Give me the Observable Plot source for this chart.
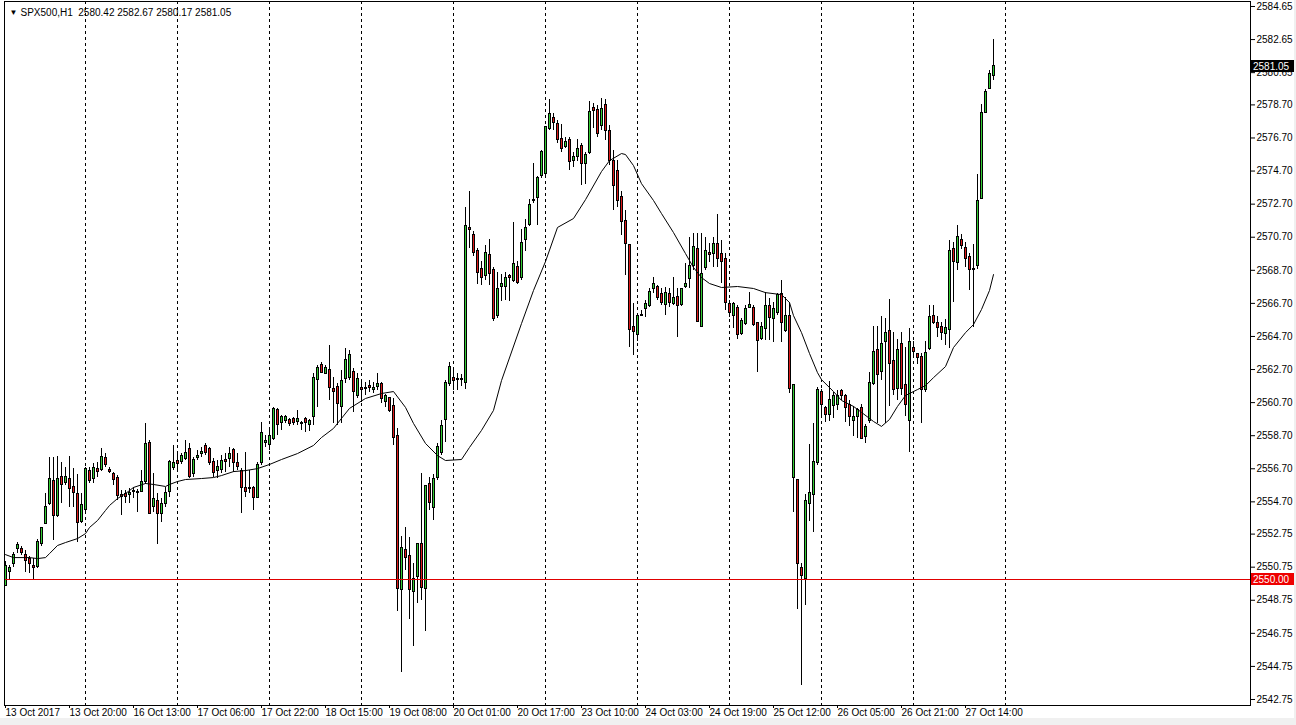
<!DOCTYPE html>
<html><head><meta charset="utf-8">
<script src="https://cdn.jsdelivr.net/npm/d3@7"></script>
<script src="https://cdn.jsdelivr.net/npm/@observablehq/plot@0.6"></script>
<style>
html,body{margin:0;padding:0;background:#f0f0f0;}
#wrap{width:1296px;height:725px;background:#f0f0f0;}
svg{display:block;}
</style></head><body><div id="wrap"></div>
<script>
const symbol = "SPX500,H1";
const open = [2549.64,2550.48,2550.97,2551.82,2551.82,2551.51,2551.27,2550.85,2550.79,2552.18,2553.39,2554.60,2555.99,2553.87,2556.23,2555.81,2556.11,2555.57,2555.20,2553.51,2554.18,2556.59,2556.11,2556.71,2556.65,2557.38,2556.65,2556.41,2556.17,2555.14,2555.20,2555.14,2555.32,2555.26,2555.32,2555.87,2558.23,2554.36,2554.78,2553.99,2554.54,2555.32,2556.77,2557.14,2557.08,2557.32,2557.87,2556.41,2557.38,2557.62,2558.05,2557.87,2557.08,2556.59,2556.65,2557.26,2557.32,2557.81,2557.02,2556.59,2555.51,2555.51,2555.51,2554.96,2557.02,2558.23,2558.11,2558.47,2560.23,2559.44,2559.56,2559.62,2559.68,2559.50,2559.44,2559.68,2559.32,2559.80,2562.09,2563.00,2562.45,2562.70,2561.55,2561.67,2560.41,2562.15,2562.21,2562.57,2561.13,2561.61,2561.61,2561.73,2561.49,2561.67,2561.85,2560.71,2560.95,2560.47,2558.71,2549.40,2551.76,2551.45,2549.22,2550.18,2552.18,2549.46,2555.75,2554.30,2556.17,2557.68,2559.62,2561.85,2562.21,2562.15,2562.09,2561.91,2571.23,2570.86,2569.89,2568.75,2568.38,2569.65,2568.69,2565.91,2567.72,2567.72,2568.38,2568.08,2568.87,2568.26,2570.56,2571.41,2572.92,2573.10,2574.42,2574.54,2577.27,2577.93,2577.57,2576.66,2576.18,2576.60,2575.33,2575.57,2576.24,2575.15,2575.82,2578.54,2578.42,2577.45,2578.72,2577.15,2575.33,2574.73,2573.16,2571.71,2570.20,2565.30,2564.81,2565.96,2566.39,2566.57,2567.54,2567.72,2567.29,2566.63,2567.29,2566.69,2567.11,2566.63,2567.66,2568.20,2568.99,2569.96,2565.30,2568.81,2569.77,2569.71,2570.32,2569.71,2569.41,2566.69,2565.96,2566.45,2564.87,2565.48,2566.45,2566.45,2565.54,2564.57,2565.18,2566.57,2565.78,2566.14,2567.29,2565.06,2565.96,2556.17,2556.05,2550.73,2550.06,2554.54,2555.14,2557.02,2561.37,2560.35,2559.98,2560.47,2560.53,2561.43,2561.07,2560.53,2559.56,2559.80,2560.35,2558.65,2559.56,2561.85,2563.91,2562.57,2564.39,2565.06,2563.24,2561.55,2564.27,2561.79,2559.56,2564.03,2563.61,2563.48,2561.49,2563.97,2565.96,2565.54,2565.30,2564.87,2565.12,2569.96,2569.17,2570.56,2570.02,2569.53,2568.75,2568.93,2573.04,2578.24,2579.69,2580.42];
const high = [2551.09,2550.85,2551.63,2552.24,2552.00,2551.76,2551.39,2551.27,2552.42,2553.15,2555.20,2557.38,2557.38,2557.44,2557.08,2556.77,2557.44,2556.71,2556.35,2555.20,2556.77,2556.77,2557.02,2557.08,2557.93,2557.62,2556.77,2556.47,2556.29,2555.38,2555.38,2555.51,2555.57,2555.45,2556.59,2559.44,2558.41,2556.41,2555.20,2554.90,2555.57,2557.20,2558.11,2557.68,2557.62,2558.41,2558.23,2557.38,2557.81,2557.99,2558.23,2557.99,2557.32,2557.20,2557.50,2557.62,2557.99,2557.93,2557.62,2556.71,2557.68,2556.59,2555.63,2557.08,2559.50,2558.71,2559.02,2560.41,2560.35,2559.92,2559.92,2559.74,2559.80,2560.23,2559.56,2559.80,2559.68,2562.45,2562.94,2563.12,2562.94,2564.15,2562.21,2561.85,2562.64,2563.97,2563.85,2562.76,2562.45,2561.91,2561.91,2562.03,2561.91,2562.45,2561.91,2561.19,2561.01,2560.95,2559.14,2552.60,2553.15,2552.54,2550.97,2552.18,2556.41,2555.63,2556.17,2556.35,2558.23,2559.62,2562.03,2563.12,2562.82,2562.45,2562.39,2572.50,2573.46,2571.05,2570.02,2569.23,2570.20,2570.56,2568.87,2568.56,2568.44,2568.56,2568.44,2571.59,2569.23,2571.17,2571.77,2572.97,2575.15,2574.36,2575.94,2577.39,2579.02,2578.17,2577.75,2577.51,2576.72,2576.72,2575.82,2576.60,2576.36,2575.82,2578.90,2578.78,2578.66,2579.08,2579.02,2577.45,2575.94,2575.33,2573.46,2572.32,2570.20,2566.69,2565.96,2566.27,2566.87,2567.60,2568.26,2567.78,2567.60,2567.66,2567.60,2568.26,2567.60,2567.60,2569.11,2570.68,2570.92,2570.92,2570.92,2570.68,2570.32,2570.68,2572.07,2570.50,2569.71,2566.87,2566.75,2566.57,2565.78,2566.57,2567.35,2566.57,2565.54,2565.54,2567.35,2566.99,2566.75,2567.29,2568.08,2567.05,2566.75,2561.79,2556.05,2550.97,2555.14,2558.17,2559.44,2561.61,2561.49,2560.47,2561.97,2561.31,2561.43,2561.49,2561.19,2560.83,2560.47,2560.35,2560.59,2559.38,2562.51,2565.30,2565.30,2565.90,2565.78,2566.93,2564.93,2564.51,2564.93,2564.03,2565.18,2564.39,2563.67,2563.67,2564.39,2566.57,2566.57,2565.90,2565.54,2565.72,2570.50,2570.38,2571.41,2570.86,2570.38,2569.71,2570.26,2574.48,2578.72,2579.63,2580.78,2582.67];
const low = [2549.58,2550.00,2550.73,2551.57,2551.45,2550.42,2550.36,2549.94,2550.67,2552.00,2553.33,2554.48,2552.36,2553.75,2554.60,2555.69,2554.36,2554.36,2552.24,2553.39,2554.05,2555.81,2555.81,2556.17,2556.53,2556.77,2556.41,2555.69,2554.78,2553.87,2554.60,2554.60,2554.90,2554.05,2555.26,2555.75,2553.99,2554.05,2552.12,2553.45,2554.36,2554.96,2556.59,2556.47,2556.96,2557.20,2556.11,2556.17,2557.20,2557.38,2557.50,2556.90,2556.17,2556.11,2556.41,2556.47,2556.77,2556.47,2556.59,2553.99,2554.96,2555.20,2554.18,2554.96,2556.90,2557.99,2557.81,2558.41,2558.71,2559.02,2559.44,2559.26,2559.32,2559.32,2559.02,2558.89,2558.95,2559.32,2560.41,2562.45,2562.39,2560.83,2559.44,2559.32,2559.44,2561.85,2562.03,2560.11,2560.95,2560.71,2561.13,2561.31,2561.25,2561.43,2560.65,2560.41,2560.11,2558.11,2548.06,2544.38,2550.55,2547.58,2545.95,2548.55,2548.73,2546.86,2554.18,2553.57,2555.99,2557.50,2558.29,2561.67,2561.43,2561.43,2561.67,2561.49,2570.02,2569.53,2567.84,2567.78,2568.08,2567.78,2565.60,2565.78,2566.81,2566.87,2566.81,2567.96,2567.84,2568.08,2569.83,2571.35,2572.74,2571.41,2574.24,2574.42,2577.15,2577.15,2576.36,2575.82,2576.06,2574.73,2574.91,2575.27,2573.82,2573.88,2575.70,2577.27,2576.72,2577.15,2576.54,2575.03,2572.32,2572.50,2570.80,2568.38,2564.03,2563.55,2564.39,2565.96,2565.84,2566.45,2567.29,2566.87,2566.57,2565.96,2566.45,2566.57,2564.63,2566.51,2567.60,2567.60,2568.69,2565.60,2565.30,2568.69,2569.17,2568.87,2568.87,2567.90,2566.27,2565.84,2565.18,2564.51,2564.75,2565.36,2566.39,2565.30,2562.51,2564.45,2564.45,2564.45,2564.33,2565.96,2564.33,2564.93,2561.25,2554.05,2548.18,2543.59,2548.43,2553.51,2552.84,2556.90,2559.92,2559.50,2559.56,2559.74,2560.23,2560.83,2559.50,2559.26,2558.65,2558.53,2558.53,2558.23,2559.44,2561.73,2559.44,2562.03,2559.44,2560.47,2561.13,2560.83,2561.13,2559.86,2557.68,2563.55,2563.00,2559.44,2561.31,2563.85,2565.42,2564.63,2564.45,2564.15,2563.97,2566.75,2568.69,2569.96,2568.87,2567.48,2565.24,2568.75,2572.97,2578.17,2579.63,2580.17];
const close = [2550.85,2550.73,2551.51,2552.12,2551.63,2551.15,2550.97,2550.73,2552.30,2553.09,2554.36,2556.11,2553.87,2556.11,2555.69,2556.23,2555.45,2555.26,2553.45,2554.48,2556.71,2555.99,2556.77,2556.53,2557.44,2556.90,2556.53,2556.05,2555.08,2555.02,2555.02,2555.26,2555.38,2555.32,2555.93,2558.17,2553.99,2554.90,2553.99,2554.60,2555.26,2557.08,2557.02,2556.96,2557.50,2557.68,2556.23,2557.26,2557.50,2557.74,2557.68,2557.02,2556.47,2556.83,2557.14,2557.08,2557.62,2557.02,2556.83,2555.51,2555.32,2555.45,2554.96,2556.90,2558.89,2558.35,2558.71,2560.29,2559.32,2559.80,2559.80,2559.38,2559.44,2559.68,2559.38,2559.44,2559.56,2562.21,2562.82,2562.51,2562.82,2561.61,2561.37,2560.59,2562.03,2563.30,2563.55,2561.37,2562.15,2561.49,2561.55,2561.61,2561.61,2561.85,2560.89,2561.13,2560.17,2558.59,2549.46,2551.88,2551.33,2549.40,2550.06,2552.18,2549.52,2555.63,2554.66,2556.11,2557.99,2559.26,2561.91,2562.88,2562.03,2562.09,2562.15,2571.35,2571.11,2569.77,2568.56,2568.26,2569.77,2568.50,2565.78,2567.54,2567.90,2568.26,2568.26,2569.11,2567.96,2570.38,2571.23,2572.62,2572.97,2574.30,2575.88,2577.39,2578.17,2577.63,2576.60,2576.06,2576.48,2575.27,2575.57,2576.06,2575.15,2575.70,2578.30,2578.36,2576.97,2578.48,2577.15,2575.33,2573.82,2572.92,2571.59,2570.32,2565.12,2564.99,2565.96,2566.02,2566.69,2567.41,2567.90,2567.05,2566.75,2567.35,2566.75,2567.05,2566.57,2567.54,2567.90,2568.99,2570.08,2565.60,2568.50,2569.89,2569.65,2570.32,2569.41,2569.23,2566.75,2566.14,2566.69,2564.81,2565.66,2566.33,2566.63,2565.42,2564.45,2565.30,2566.57,2565.84,2566.33,2567.23,2565.54,2565.96,2561.55,2561.79,2550.97,2550.24,2554.78,2555.26,2557.08,2561.49,2560.53,2559.98,2560.83,2561.07,2561.13,2561.07,2560.35,2559.80,2559.86,2560.23,2558.53,2559.20,2561.91,2563.79,2562.39,2564.27,2564.93,2563.06,2561.49,2563.91,2561.55,2560.53,2564.39,2563.79,2563.42,2561.49,2563.67,2565.90,2565.54,2565.24,2564.93,2565.24,2569.89,2569.23,2570.74,2570.14,2569.41,2568.69,2568.69,2572.92,2578.24,2579.51,2580.54,2581.05];

// moving average (bar index, price)
const maIdx = [0,2,6,8,10,11,13,15,18,20,21,23,25,26,28,30,32,35,37,40,41,43,45,49,52,54,57,60,63,66,69,73,77,79,82,86,90,94,97,100,102,105,108,110,114,116,119,122,124,129,132,135,138,142,145,149,151,154,155,157,159,162,164,167,170,172,174,176,179,183,187,190,194,196,197,199,201,203,204,207,209,212,214,217,219,221,223,225,228,230,232,235,237,240,242,244,246,247];
const maVal = [2551.51,2551.33,2551.33,2551.27,2551.33,2551.57,2552.06,2552.24,2552.48,2552.78,2553.15,2553.57,2554.18,2554.48,2554.90,2555.20,2555.57,2555.81,2555.75,2555.63,2555.75,2555.93,2556.05,2556.11,2556.17,2556.29,2556.53,2556.59,2556.71,2556.96,2557.26,2557.62,2558.11,2558.59,2559.14,2560.35,2560.95,2561.25,2561.37,2560.41,2559.44,2558.23,2557.50,2557.20,2557.26,2557.99,2559.02,2560.23,2562.03,2565.48,2567.48,2569.23,2571.29,2571.83,2572.97,2574.67,2575.33,2575.76,2575.70,2575.03,2573.94,2572.92,2572.13,2570.98,2569.71,2568.87,2568.26,2567.90,2567.66,2567.72,2567.60,2567.35,2567.23,2566.75,2565.96,2564.93,2563.67,2562.51,2562.09,2561.37,2560.83,2560.47,2560.11,2559.56,2559.26,2559.68,2560.47,2561.13,2561.49,2561.73,2562.21,2562.88,2564.03,2564.93,2565.42,2566.33,2567.48,2568.44];

const refLevel = 2550.00;
const yTicks = [2584.65,2582.65,2580.65,2578.70,2576.70,2574.70,2572.70,2570.70,2568.70,2566.70,2564.70,2562.70,2560.70,2558.70,2556.70,2554.70,2552.75,2550.75,2548.75,2546.75,2544.75,2542.75];
const labelIdx = [0,16,32,48,64,80,96,112,128,144,160,176,192,208,224,240];
const labelTxt = ["13 Oct 2017","13 Oct 20:00","16 Oct 13:00","17 Oct 06:00","17 Oct 22:00","18 Oct 15:00","19 Oct 08:00","20 Oct 01:00","20 Oct 17:00","23 Oct 10:00","24 Oct 03:00","24 Oct 19:00","25 Oct 12:00","26 Oct 05:00","26 Oct 21:00","27 Oct 14:00"];
const gridIdx = [20,43,66,89,112,135,158,181,204,227,250];

const GREEN = "#33cc33", RED = "#dd1a1a";
const FONT = "'Liberation Sans', Arial, sans-serif";
const bars = open.map((o, i) => ({i, open: o, high: high[i], low: low[i], close: close[i], up: close[i] >= o}));
const ma = maIdx.map((i, k) => ({i, v: maVal[k]}));
const last = bars[bars.length - 1];
const title = `${symbol}  ${last.open.toFixed(2)} ${last.high.toFixed(2)} ${last.low.toFixed(2)} ${last.close.toFixed(2)}`;

const chart = Plot.plot({
  width: 1294, height: 718,
  marginLeft: 4, marginRight: 44, marginTop: 1, marginBottom: 13,
  style: {fontFamily: FONT, fontSize: "10px", background: "white", color: "black"},
  x: {domain: [-0.25, 311.25]},
  y: {domain: [2542.387, 2584.952]},
  marks: [
    Plot.ruleX(gridIdx, {x: d => d, stroke: "black", strokeDasharray: "3,3"}),
    Plot.ruleX(bars, {x: "i", y1: "low", y2: "high", stroke: "black", shapeRendering: "crispEdges"}),
    Plot.rect(bars, {x1: d => d.i - 0.25, x2: d => d.i + 0.25, y1: "open", y2: "close",
      fill: d => d.up ? GREEN : RED, stroke: "black", strokeWidth: 1, shapeRendering: "crispEdges"}),
    Plot.ruleY(bars.filter(d => Math.abs(d.open - d.close) < 0.05),
      {y: "close", x1: d => d.i - 0.375, x2: d => d.i + 0.375, stroke: "black", shapeRendering: "crispEdges"}),
    Plot.ruleY([refLevel], {stroke: "#e00000", shapeRendering: "crispEdges"}),
    Plot.line(ma, {x: "i", y: "v", stroke: "black", strokeWidth: 1}),
    Plot.frame({stroke: "black"}),
    Plot.axisY({anchor: "right", ticks: yTicks, tickFormat: d => d.toFixed(2), tickSize: 4, tickPadding: 2, label: null}),
    Plot.axisX({anchor: "bottom", ticks: labelIdx, tickFormat: v => labelTxt[labelIdx.indexOf(v)],
      tickSize: 3, tickPadding: 0, textAnchor: "start", label: null}),
    Plot.text(["\u25BC"], {frameAnchor: "top-left", dx: 5, dy: 11, textAnchor: "start", lineAnchor: "middle", fontSize: 8}),
    Plot.text([title], {frameAnchor: "top-left", dx: 16, dy: 11, textAnchor: "start", lineAnchor: "middle"})
  ]
});

// current-price and level labels on the price axis
const ys = chart.scale("y");
const xr = chart.scale("x").range;
const svg = d3.select(chart);
function priceBox(v, bg) {
  const y = Math.round(ys.apply(v));
  svg.append("rect").attr("x", xr[1] + 1).attr("y", y - 6).attr("width", 43).attr("height", 12).attr("fill", bg);
  svg.append("text").attr("x", xr[1] + 3).attr("y", y).attr("dy", "0.35em")
    .attr("text-anchor", "start").attr("fill", "white").attr("font-size", 10).attr("font-family", FONT)
    .text(v.toFixed(2));
}
priceBox(last.close, "black");
priceBox(refLevel, "#ee0000");

document.getElementById("wrap").appendChild(chart);
</script></body></html>
